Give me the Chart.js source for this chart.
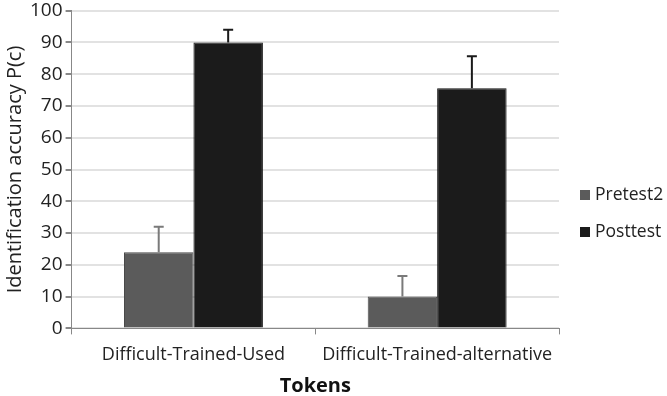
<!DOCTYPE html>
<html>
<head>
<meta charset="utf-8">
<script src="https://cdn.jsdelivr.net/npm/chart.js@4.4.1/dist/chart.umd.min.js"></script>
<style>
  html, body { margin: 0; padding: 0; background: #fff; }
  #wrap { width: 667px; height: 396px; }
</style>
</head>
<body>
<div id="wrap"><canvas id="chart"></canvas></div>
<script>
const categories = ['Difficult-Trained-Used', 'Difficult-Trained-alternative'];
const pretest2 = [24, 10];
const posttest = [90, 75.6];
const pretest2Err = [8, 6.5];
const posttestErr = [4, 10];
const yTicks = [0, 10, 20, 30, 40, 50, 60, 70, 80, 90, 100];

const FONT = '"Open Sans", sans-serif';

// error bars, upward only
const errorBars = {
  id: 'errorBars',
  afterDatasetsDraw(chart) {
    const ctx = chart.ctx;
    const y = chart.scales.y;
    chart.data.datasets.forEach((ds, i) => {
      const meta = chart.getDatasetMeta(i);
      meta.data.forEach((bar, j) => {
        const top = y.getPixelForValue(ds.data[j] + ds.errors[j]);
        ctx.save();
        ctx.strokeStyle = ds.errColor;
        ctx.lineWidth = 2;
        ctx.beginPath();
        ctx.moveTo(bar.x, bar.y);
        ctx.lineTo(bar.x, top);
        ctx.moveTo(bar.x - 5, top);
        ctx.lineTo(bar.x + 5, top);
        ctx.stroke();
        ctx.restore();
      });
    });
  }
};

// legend on the right
const sideLegend = {
  id: 'sideLegend',
  afterDraw(chart) {
    const ctx = chart.ctx;
    const x0 = chart.chartArea.right + 21;
    ctx.save();
    ctx.font = '17.5px ' + FONT;
    ctx.textBaseline = 'middle';
    chart.data.datasets.forEach((ds, i) => {
      const cy = 195 + i * 37;
      ctx.fillStyle = ds.backgroundColor;
      ctx.fillRect(x0, cy - 5, 10, 10);
      ctx.fillStyle = '#222';
      ctx.fillText(ds.label, x0 + 15, cy);
    });
    ctx.restore();
  }
};

new Chart(document.getElementById('chart'), {
  type: 'bar',
  data: {
    labels: categories,
    datasets: [
      {
        label: 'Pretest2',
        data: pretest2,
        errors: pretest2Err,
        errColor: '#7a7a7a',
        backgroundColor: '#5b5b5b',
        borderColor: '#4a4a4a',
        borderWidth: 1
      },
      {
        label: 'Posttest',
        data: posttest,
        errors: posttestErr,
        errColor: '#1a1a1a',
        backgroundColor: '#1b1b1b',
        borderColor: '#111',
        borderWidth: 1
      }
    ]
  },
  options: {
    responsive: true,
    maintainAspectRatio: false,
    animation: false,
    categoryPercentage: 0.57,
    barPercentage: 1,
    layout: { padding: { top: 0, right: 108, bottom: 0, left: 3 } },
    plugins: {
      legend: { display: false },
      tooltip: { enabled: false }
    },
    scales: {
      x: {
        grid: {
          offset: true,
          drawOnChartArea: false,
          tickLength: 6,
          tickColor: '#888'
        },
        border: { color: '#888', width: 1 },
        ticks: { color: '#222', font: { family: FONT, size: 18 }, padding: 10 },
        title: {
          display: true,
          text: 'Tokens',
          color: '#111',
          font: { family: FONT, size: 20, weight: 'bold', lineHeight: 1.0 },
          padding: { top: 0, bottom: 0 }
        }
      },
      y: {
        min: 0,
        max: 100,
        afterBuildTicks: scale => { scale.ticks = yTicks.map(v => ({ value: v })); },
        grid: {
          color: '#e2e2e2',
          lineWidth: 2,
          tickLength: 6,
          tickColor: '#888'
        },
        border: { color: '#888', width: 1 },
        ticks: { color: '#222', font: { family: FONT, size: 19, lineHeight: 0.8 }, padding: 3 },
        title: {
          display: true,
          text: 'Identification accuracy P(c)',
          color: '#222',
          font: { family: FONT, size: 20 },
          padding: { top: 0, bottom: 0 }
        }
      }
    }
  },
  plugins: [errorBars, sideLegend]
});
</script>
</body>
</html>
